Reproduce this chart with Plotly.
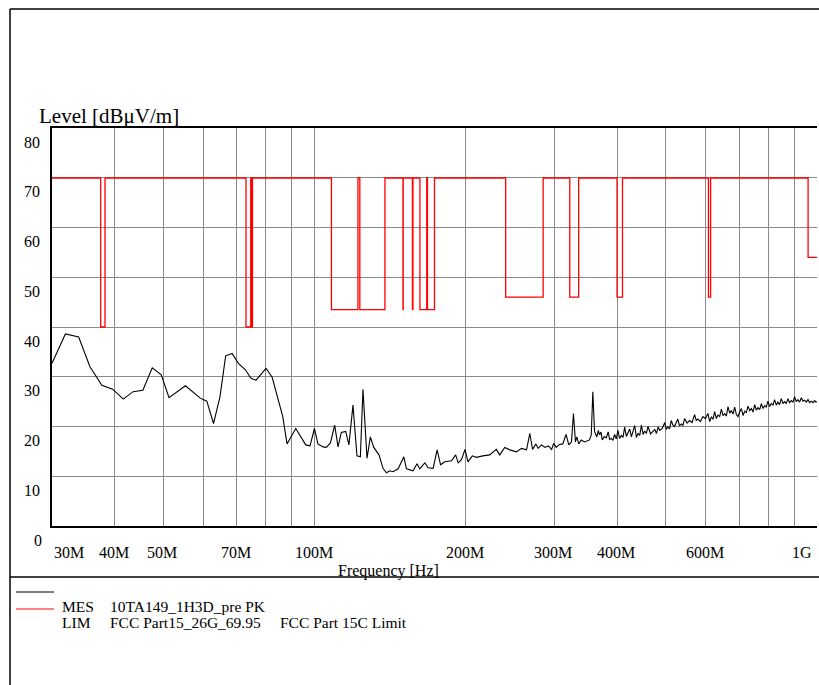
import numpy as np
import plotly.graph_objects as go

# ---------------- data ----------------
# Measurement (peak) trace, frequency in MHz, level in dBuV/m
meas_freq_mhz = [
    30.0, 31.9, 33.9, 35.7, 37.7, 39.6, 41.6, 43.5, 45.5, 47.5, 49.5, 51.3, 55.3, 59.2, 61.0,
    62.9, 64.8, 66.5, 68.5, 70.5, 72.8, 74.7, 76.4, 80.0, 82.3, 84.5, 86.4, 88.1, 91.7, 96.0,
    97.9, 99.9, 101.5, 103.9, 105.5, 107.5, 109.6, 111.3, 113.0, 115.3, 117.0, 119.2, 121.4, 123.3, 124.8,
    127.1, 129.1, 131.1, 134.3, 136.8, 139.0, 141.1, 143.2, 146.6, 150.5, 152.3, 157.0, 159.9, 161.9, 165.7,
    168.2, 172.1, 175.3, 178.1, 181.6, 187.3, 190.8, 193.1, 196.1, 199.2, 201.9, 206.0, 209.8, 216.2, 223.0,
    230.0, 233.5, 239.0, 244.6, 252.2, 258.1, 264.1, 268.1, 271.5, 275.6, 278.5, 283.0, 287.3, 291.7, 296.3,
    299.0, 302.6, 307.2, 311.9, 316.5, 320.6, 324.5, 327.5, 330.5, 332.5, 335.6, 339.3, 344.5, 352.5, 355.3,
    357.9, 360.7, 364.6,
    367.0, 369.1, 371.5, 373.7, 377.0, 380.6, 384.0, 386.5, 389.5, 392.5, 395.4, 398.5, 401.6, 404.5, 407.9,
    411.0, 414.1, 417.3, 420.5, 423.8, 427.1, 430.3, 433.6, 437.0, 440.3, 443.8, 447.2, 450.6, 454.0, 457.5,
    461.0, 466.3, 471.7, 475.4, 479.1, 482.8, 486.5, 492.0, 497.7, 501.2, 504.8, 508.7, 512.6, 516.5, 520.4,
    524.4, 528.4, 532.5, 536.7, 540.8, 545.0, 551.3, 557.6, 564.0, 570.6, 575.0, 579.3, 586.0, 592.8, 599.6,
    606.6, 611.4, 616.2, 620.9, 625.6, 630.4, 635.2, 640.2, 645.2, 650.1, 655.0, 660.0, 665.0, 670.2, 675.4,
    680.5, 685.7, 691.0, 696.2, 701.6, 707.1, 712.5, 717.9, 723.4, 728.9, 734.6, 740.3, 746.0, 751.6, 757.3,
    763.0, 769.0, 774.9, 780.8, 786.7, 792.6, 798.5, 804.7, 811.0, 817.2, 823.4, 829.7, 836.0, 842.5, 849.1,
    855.6, 862.1, 868.7, 875.3, 882.1, 889.0, 895.7, 902.5, 909.4, 916.3, 923.5, 930.7, 937.8, 944.9, 952.2,
    959.5, 967.0, 974.6, 982.1, 989.7, 995.0, 1000.0,
]
meas_level = [
    32.7, 38.6, 38.0, 32.0, 28.3, 27.5, 25.5, 27.0, 27.3, 31.8, 30.4, 25.8, 28.2, 25.7, 25.1,
    20.6, 26.0, 34.2, 34.7, 32.7, 31.4, 29.7, 29.3, 31.7, 29.9, 25.3, 22.0, 16.5, 19.6, 16.3,
    16.1, 19.6, 16.5, 15.9, 15.8, 16.7, 20.3, 15.9, 18.8, 19.0, 16.3, 24.3, 14.1, 13.9, 27.5,
    13.6, 17.9, 15.8, 14.3, 11.6, 10.7, 11.1, 10.9, 11.5, 13.9, 11.5, 11.1, 12.5, 11.5, 12.7,
    11.7, 11.6, 15.3, 12.3, 12.9, 13.1, 14.3, 12.7, 13.4, 15.4, 12.9, 14.1, 13.8, 14.1, 14.3,
    15.4, 14.3, 15.8, 15.3, 14.9, 15.6, 15.3, 18.6, 15.4, 16.5, 15.6, 16.3, 15.8, 16.1, 15.4,
    16.6, 15.8, 16.4, 16.5, 18.4, 16.3, 16.9, 22.6, 16.9, 17.9, 16.5, 17.3, 16.9, 17.3, 18.3,
    27.0, 19.0, 17.9,
    19.2, 18.3, 18.9, 17.3, 18.0, 17.7, 18.9, 17.4, 17.6, 17.2, 18.4, 17.5, 19.2, 17.6, 18.2,
    17.8, 19.9, 18.0, 18.6, 19.5, 17.9, 19.0, 20.2, 17.8, 18.6, 18.2, 20.3, 18.4, 19.1, 18.6,
    20.0, 18.5, 19.0, 19.4, 18.6, 19.9, 19.2, 19.6, 20.8, 19.4, 19.9, 19.5, 21.2, 20.3, 20.0,
    20.9, 21.5, 20.1, 20.5, 20.2, 21.6, 20.7, 21.2, 20.8, 22.4, 21.2, 21.5, 21.0, 22.0, 21.6,
    22.6, 21.0, 21.9, 21.5, 23.0, 21.6, 22.3, 22.0, 23.5, 22.2, 22.6, 22.1, 24.0, 22.7, 23.2,
    22.5, 23.9, 22.4, 22.0, 22.9, 23.6, 22.2, 23.1, 22.8, 24.1, 23.2, 23.6, 22.9, 24.4, 23.3,
    23.8, 23.4, 24.6, 23.6, 24.2, 23.9, 25.1, 24.0, 24.6, 24.3, 25.4, 24.3, 24.9, 24.4, 25.6,
    24.6, 25.0, 24.6, 25.6, 24.8, 25.2, 24.9, 26.0, 25.0, 25.4, 24.9, 25.8, 25.1, 25.3, 24.9,
    25.4, 24.8, 25.1, 24.8, 25.2, 24.9, 25.0,
]

# FCC Part 15C limit (step function: level holds from this frequency to the next)
lim_freq_mhz = [
    30.0, 37.5, 38.25, 73.0, 74.6, 74.8, 75.2, 108.0, 121.94, 123.0, 138.0, 149.9, 150.05,
    156.52475, 156.52525, 156.7, 156.9, 162.0125, 167.17, 167.72, 173.2, 240.0, 285.0,
    322.0, 335.4, 399.9, 410.0, 608.0, 614.0, 960.0, 1000.0,
]
lim_level = [
    69.95, 40.0, 69.95, 40.0, 69.95, 40.0, 69.95, 43.5, 69.95, 43.5, 69.95, 43.5, 69.95,
    43.5, 69.95, 43.5, 69.95, 43.5, 69.95, 43.5, 69.95, 46.0, 69.95,
    46.0, 69.95, 46.0, 69.95, 46.0, 69.95, 54.0, 54.0,
]

x_grid_mhz = [30, 40, 50, 60, 70, 80, 90, 100, 200, 300, 400, 500, 600, 700, 800, 900, 1000]
x_label_mhz = [30, 40, 50, 70, 100, 200, 300, 400, 600, 1000]
x_label_text = ["30M", "40M", "50M", "70M", "100M", "200M", "300M", "400M", "600M", "1G"]
y_ticks = [0, 10, 20, 30, 40, 50, 60, 70, 80]

legend_rows = [
    ("MES", "10TA149_1H3D_pre PK", ""),
    ("LIM", "FCC Part15_26G_69.95", "FCC Part 15C Limit"),
]

# ---------------- layout geometry ----------------
W, H = 819, 685
ML, MR, MT, MB = 52, 2, 128, 159
PW, PH = W - ML - MR, H - MT - MB
FONT = "Liberation Serif"


def px(xp):
    return (xp - ML) / PW


def py(yp):
    return (H - MB - yp) / PH


fig = go.Figure()
fig.add_trace(go.Scatter(
    x=[f * 1e6 for f in lim_freq_mhz], y=lim_level, mode="lines",
    line=dict(color="#ff0000", width=1.3, shape="hv"), showlegend=False, hoverinfo="skip"))
fig.add_trace(go.Scatter(
    x=[f * 1e6 for f in meas_freq_mhz], y=meas_level, mode="lines",
    line=dict(color="black", width=1.1), showlegend=False))

grid_col = "#8a8a8a"
fig.update_xaxes(type="log", range=[np.log10(30e6), np.log10(1e9)],
                 tickvals=[f * 1e6 for f in x_grid_mhz], showticklabels=False,
                 showgrid=True, gridcolor=grid_col, gridwidth=1, ticks="",
                 showline=True, linecolor="black", linewidth=1.5, mirror=True,
                 zeroline=False)
fig.update_yaxes(range=[0, 80], tickvals=y_ticks, showticklabels=False,
                 showgrid=True, gridcolor=grid_col, gridwidth=1, ticks="",
                 showline=True, linecolor="black", linewidth=1.5, mirror=False,
                 zeroline=False)

ann = []
# y tick labels (sit below their grid lines)
for v in y_ticks:
    ann.append(dict(x=0, xref="paper", y=v, yref="y", text=str(v), showarrow=False,
                    xanchor="right", yanchor="middle", xshift=-8 if v == 0 else -10.5,
                    yshift=-14, font=dict(family=FONT, size=16, color="black")))
# x tick labels
for f, t in zip(x_label_mhz, x_label_text):
    if f == 30:
        xa, xs = "left", 0
    elif f == 1000:
        xa, xs = "right", -3
    else:
        xa, xs = "center", -1
    ann.append(dict(x=np.log10(f * 1e6), xref="x", y=0, yref="paper", text=t, showarrow=False,
                    xanchor=xa, yanchor="middle", xshift=xs, yshift=-26,
                    font=dict(family=FONT, size=16, color="black")))
# axis titles
ann.append(dict(x=px(37), xref="paper", y=py(116), yref="paper", text="Level [dBμV/m]",
                showarrow=False, xanchor="left", yanchor="middle",
                font=dict(family=FONT, size=21, color="black")))
ann.append(dict(x=px(388.5), xref="paper", y=py(571), yref="paper", text="Frequency [Hz]",
                showarrow=False, xanchor="center", yanchor="middle",
                font=dict(family=FONT, size=16, color="black")))
# legend text
row_y = [606.5, 622]
for (a, b, c), yy in zip(legend_rows, row_y):
    ann.append(dict(x=px(60), xref="paper", y=py(yy), yref="paper", text=a, showarrow=False,
                    xanchor="left", yanchor="middle", font=dict(family=FONT, size=15.5, color="black")))
    ann.append(dict(x=px(108), xref="paper", y=py(yy), yref="paper", text=b, showarrow=False,
                    xanchor="left", yanchor="middle", font=dict(family=FONT, size=15.5, color="black")))
    if c:
        ann.append(dict(x=px(277.7), xref="paper", y=py(yy), yref="paper", text=c, showarrow=False,
                        xanchor="left", yanchor="middle", font=dict(family=FONT, size=15.5, color="black")))

shapes = []
# outer frame lines
for x0, y0, x1, y1 in [(10, 9, 819, 9), (10, 9, 10, 685), (10, 577, 819, 577)]:
    shapes.append(dict(type="line", xref="paper", yref="paper", x0=px(x0), y0=py(y0),
                       x1=px(x1), y1=py(y1), line=dict(color="black", width=1.5)))
# legend line samples
shapes.append(dict(type="line", xref="paper", yref="paper", x0=px(16), y0=py(592), x1=px(54),
                   y1=py(592), line=dict(color="black", width=1)))
shapes.append(dict(type="line", xref="paper", yref="paper", x0=px(16), y0=py(609), x1=px(54),
                   y1=py(609), line=dict(color="#ff0000", width=1)))

fig.update_layout(width=W, height=H, autosize=False,
                  margin=dict(l=ML, r=MR, t=MT, b=MB, pad=0),
                  paper_bgcolor="white", plot_bgcolor="white",
                  annotations=ann, shapes=shapes, showlegend=False,
                  font=dict(family=FONT, color="black"))

fig.write_html("out.html", config={"displayModeBar": False},
               post_script="document.body.style.margin='0px';document.body.style.overflow='hidden';")
